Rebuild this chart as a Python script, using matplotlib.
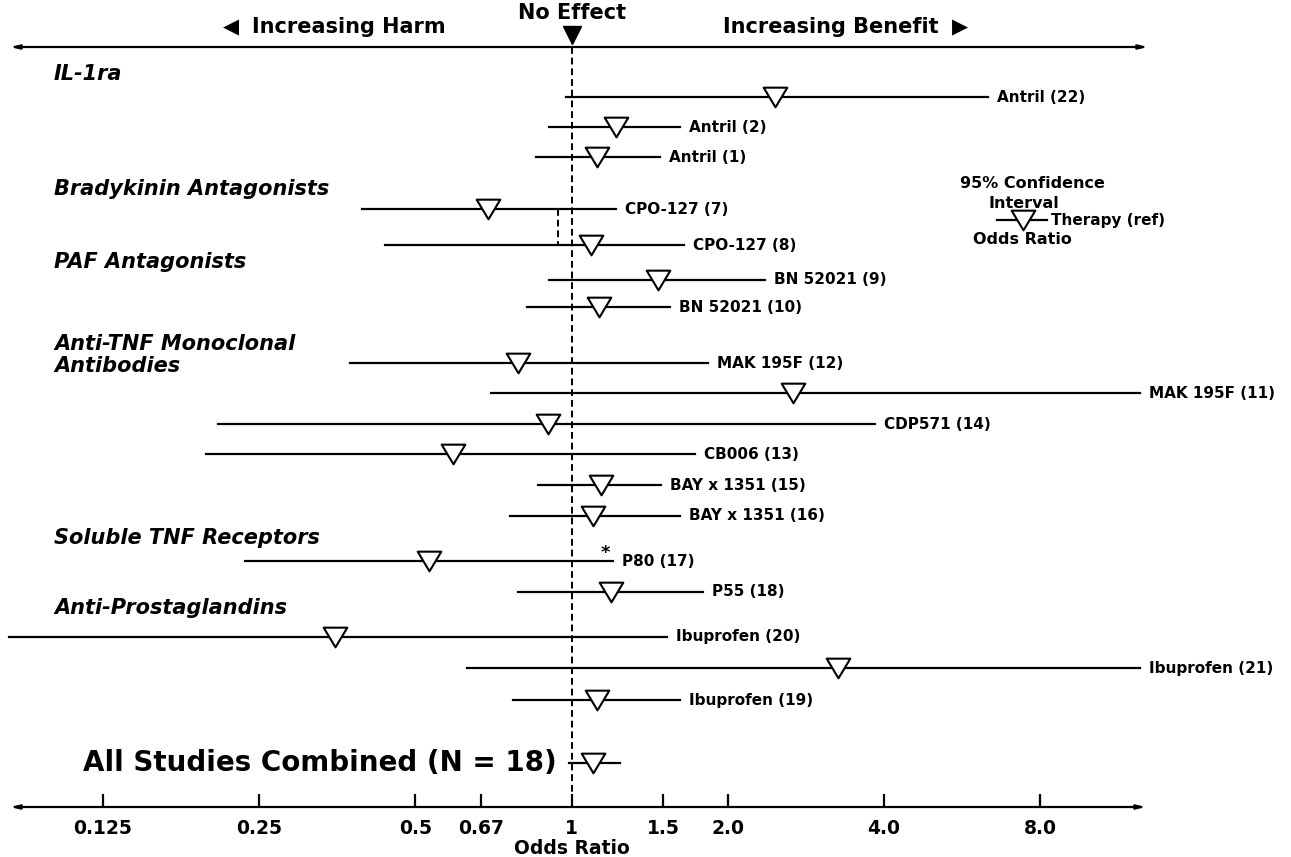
import numpy as np
import matplotlib
matplotlib.use("Agg")
import matplotlib.pyplot as plt
from matplotlib.path import Path

plt.rcParams['font.family'] = ['DejaVu Sans']
plt.rcParams['font.weight'] = 'bold'

# study data: odds ratio with 95% CI
studies = ["Antril (22)", "Antril (2)", "Antril (1)",
           "CPO-127 (7)", "CPO-127 (8)",
           "BN 52021 (9)", "BN 52021 (10)",
           "MAK 195F (12)", "MAK 195F (11)", "CDP571 (14)", "CB006 (13)",
           "BAY x 1351 (15)", "BAY x 1351 (16)",
           "P80 (17)", "P55 (18)",
           "Ibuprofen (20)", "Ibuprofen (21)", "Ibuprofen (19)"]
odds_ratio = [2.47, 1.22, 1.12,
              0.69, 1.09,
              1.47, 1.13,
              0.79, 2.67, 0.90, 0.59,
              1.14, 1.10,
              0.53, 1.19,
              0.35, 3.26, 1.12]
ci_low = [0.975, 0.905, 0.854,
          0.395, 0.437,
          0.905, 0.82,
          0.374, 0.70, 0.208, 0.197,
          0.86, 0.76,
          0.235, 0.79,
          0.0824, 0.63, 0.77]
ci_high = [6.35, 1.62, 1.48,
           1.22, 1.65,
           2.36, 1.55,
           1.83, 12.46, 3.84, 1.73,
           1.49, 1.62,
           1.20, 1.79,
           1.53, 12.46, 1.62]

combined_or = 1.10
combined_low = 0.99
combined_high = 1.24
cpo_pooled = 0.94  # short dashed line between the two CPO-127 studies

groups = ["IL-1ra", "Bradykinin Antagonists", "PAF Antagonists",
          "Anti-TNF Monoclonal\nAntibodies", "Soluble TNF Receptors",
          "Anti-Prostaglandins"]

xticks = [0.125, 0.25, 0.5, 0.67, 1, 1.5, 2.0, 4.0, 8.0]
xtick_labels = ["0.125", "0.25", "0.5", "0.67", "1", "1.5", "2.0", "4.0", "8.0"]

# layout (vertical pixel positions of the rows)
row_y = [97, 127, 157, 209, 245, 280, 307, 363, 393, 424, 454, 485, 516,
         561, 592, 637, 668, 700]
group_y = [74, 189, 262, 355, 538, 608]
combined_y = 763

W, H = 1291, 857
fig = plt.figure(figsize=(W / 100, H / 100), dpi=100)
ax = fig.add_axes([0, 0, 1, 1])
ax.set_xscale('log', base=2)
# pixel x = 571.6 + 156.2 * log2(OR)
x0, octave = 571.6, 156.2
ax.set_xlim(2 ** (-x0 / octave), 2 ** ((W - x0) / octave))
ax.set_ylim(H, 0)
ax.axis('off')

fx = lambda p: p / W  # pixel -> axes fraction
tr = ax.get_yaxis_transform()

tri = Path([(-1.2, 1), (1.2, 1), (0, -1), (-1.2, 1)],
           [Path.MOVETO, Path.LINETO, Path.LINETO, Path.CLOSEPOLY])

# no effect line
ax.plot([1, 1], [47, 805], color='black', lw=1.4, ls=(0, (3.5, 2)), zorder=1)
ax.plot([cpo_pooled] * 2, [row_y[3], row_y[4]], color='black', lw=1.4,
        ls=(0, (3.5, 2)), zorder=1)

for name, o, lo, hi, y in zip(studies, odds_ratio, ci_low, ci_high, row_y):
    ax.plot([lo, hi], [y, y], color='black', lw=1.6, zorder=2)
    ax.plot(o, y, marker=tri, ms=17, mfc='white', mec='black', mew=1.5,
            zorder=3)
    ax.annotate(name, (hi, y), xytext=(9, 0), textcoords='offset pixels',
                ha='left', va='center', fontsize=11)

# asterisk for P80
ax.annotate("*", (ci_high[13], row_y[13]), xytext=(-7, 8),
            textcoords='offset pixels', ha='center', va='center', fontsize=13)

# combined
ax.plot([combined_low, combined_high], [combined_y] * 2, color='black', lw=1.6)
ax.plot(combined_or, combined_y, marker=tri, ms=17, mfc='white', mec='black',
        mew=1.5, zorder=3)
ax.text(fx(83), combined_y, "All Studies Combined (N = 18)", transform=tr,
        ha='left', va='center', fontsize=20)

for g, y in zip(groups, group_y):
    ax.text(fx(54), y, g, transform=tr, ha='left', va='center', fontsize=15,
            style='italic', linespacing=1.15)

# top axis with direction labels
ax.annotate("", xy=(fx(1148), 47), xytext=(fx(10), 47), xycoords=tr,
            textcoords=tr,
            arrowprops=dict(arrowstyle='<|-|>,head_length=0.5,head_width=0.12',
                            color='black', lw=1.6, shrinkA=0, shrinkB=0))
ax.text(fx(231), 27, "◀", transform=tr, ha='center', va='center', fontsize=15)
ax.text(fx(252), 27, "Increasing Harm", transform=tr, ha='left',
        va='center', fontsize=15)
ax.text(fx(723), 27, "Increasing Benefit", transform=tr, ha='left',
        va='center', fontsize=15)
ax.text(fx(960), 27, "▶", transform=tr, ha='center', va='center', fontsize=15)
ax.text(1, 13, "No Effect", ha='center', va='center', fontsize=15)
ax.plot(1, 35, marker='v', ms=13, color='black')

# bottom axis
ax.annotate("", xy=(fx(1146), 807), xytext=(fx(10), 807), xycoords=tr,
            textcoords=tr,
            arrowprops=dict(arrowstyle='<|-|>,head_length=0.5,head_width=0.12',
                            color='black', lw=1.6, shrinkA=0, shrinkB=0))
ax.vlines(xticks, 794, 807, color='black', lw=1.6)
for t, lab in zip(xticks, xtick_labels):
    ax.text(t, 828, lab, ha='center', va='center', fontsize=13.5)
ax.text(1, 849, "Odds Ratio", ha='center', va='center', fontsize=13.5)

# legend key
ax.text(fx(1032), 183, "95% Confidence", transform=tr, ha='center',
        va='center', fontsize=11.5)
ax.text(fx(1024), 203, "Interval", transform=tr, ha='center', va='center',
        fontsize=11.5)
ax.plot([fx(997), fx(1047)], [220, 220], transform=tr, color='black', lw=1.6)
ax.plot(fx(1023), 220, transform=tr, marker=tri, ms=17, mfc='white',
        mec='black', mew=1.5)
ax.text(fx(1051), 220, "Therapy (ref)", transform=tr, ha='left', va='center',
        fontsize=11)
ax.text(fx(1022), 239, "Odds Ratio", transform=tr, ha='center', va='center',
        fontsize=11.5)

fig.savefig("out.png", dpi=100)
